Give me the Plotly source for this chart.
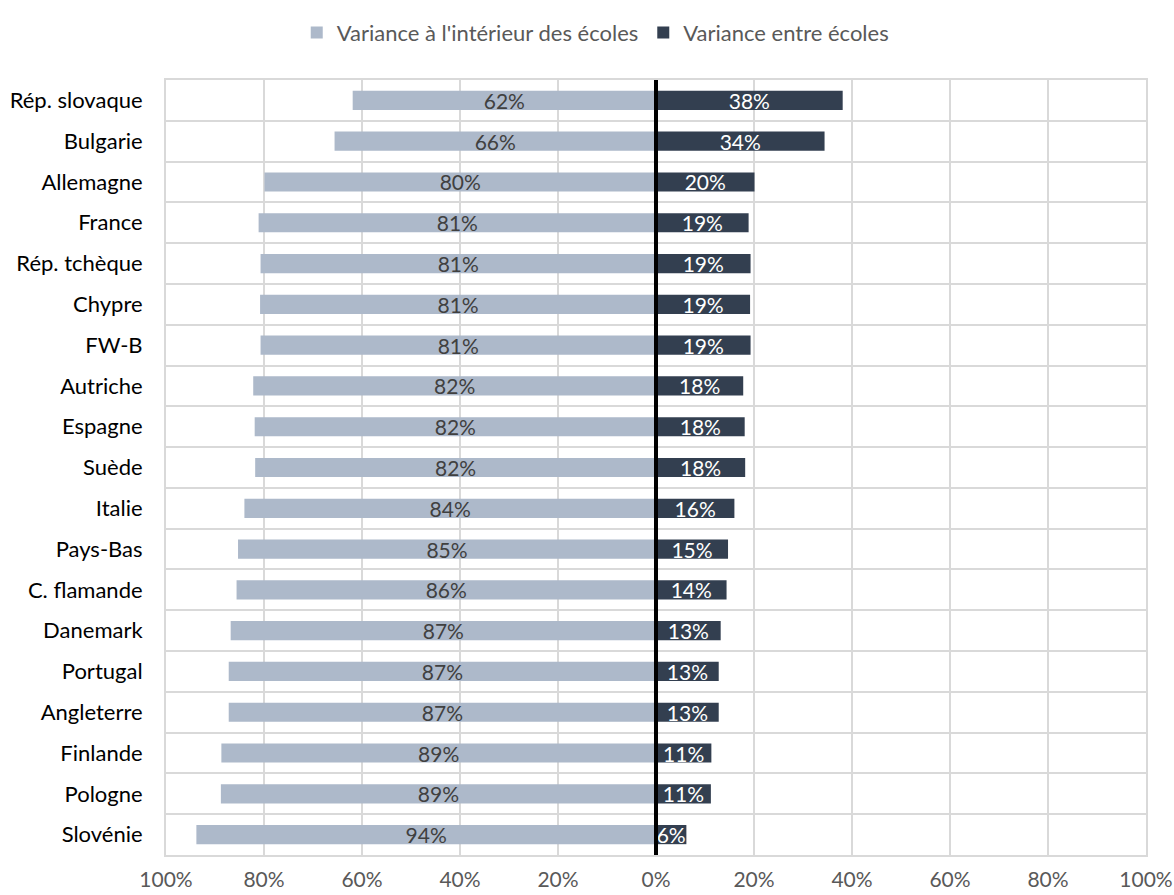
import plotly.graph_objects as go

# Share of reading-score variance, by country (percent)
countries = [
    "Rép. slovaque", "Bulgarie", "Allemagne", "France", "Rép. tchèque",
    "Chypre", "FW-B", "Autriche", "Espagne", "Suède", "Italie", "Pays-Bas",
    "C. flamande", "Danemark", "Portugal", "Angleterre", "Finlande",
    "Pologne", "Slovénie",
]
within_schools = [
    61.9, 65.6, 79.9, 81.1, 80.7, 80.8, 80.7, 82.2, 81.9, 81.8, 84.0, 85.3,
    85.6, 86.8, 87.2, 87.2, 88.7, 88.8, 93.8,
]
between_schools = [
    38.1, 34.4, 20.1, 18.9, 19.3, 19.2, 19.3, 17.8, 18.1, 18.2, 16.0, 14.7,
    14.4, 13.2, 12.8, 12.8, 11.3, 11.2, 6.2,
]
tick_values = [-100, -80, -60, -40, -20, 0, 20, 40, 60, 80, 100]
tick_labels = ["100%", "80%", "60%", "40%", "20%", "0%",
               "20%", "40%", "60%", "80%", "100%"]

FONT = "Lato, Carlito, Calibri, sans-serif"
LIGHT = "#ADB9CA"
DARK = "#333F50"
GRID = "#D9D9D9"

fig = go.Figure()
fig.add_trace(go.Bar(
    name="Variance à l'intérieur des écoles",
    y=countries,
    x=[-v for v in within_schools],
    orientation="h",
    marker=dict(color=LIGHT, line=dict(width=0)),
    text=[f"{round(v)}%" for v in within_schools],
    textposition="inside",
    insidetextanchor="middle",
    textangle=0,
    textfont=dict(family=FONT, size=21, color="#404040"),
    hoverinfo="skip",
))
fig.add_trace(go.Bar(
    name="Variance entre écoles",
    y=countries,
    x=between_schools,
    orientation="h",
    marker=dict(color=DARK, line=dict(width=0)),
    text=[f"{round(v)}%" for v in between_schools],
    textposition="inside",
    insidetextanchor="middle",
    textangle=0,
    textfont=dict(family=FONT, size=21, color="#FFFFFF"),
    hoverinfo="skip",
))

# black reference line at zero, drawn over the bars
fig.add_shape(type="line", xref="x", yref="paper", x0=0, x1=0, y0=0, y1=1,
              line=dict(color="#000000", width=4), layer="above")

fig.update_layout(
    width=1174,
    height=895,
    margin=dict(l=166, r=28, t=80, b=40),
    paper_bgcolor="white",
    plot_bgcolor="white",
    barmode="relative",
    bargap=0.53,
    font=dict(family=FONT, size=20, color="#595959"),
    uniformtext=dict(minsize=20, mode="show"),
    legend=dict(
        orientation="h",
        x=0.438, xanchor="center",
        y=1.061, yanchor="middle",
        font=dict(family=FONT, size=22, color="#595959"),
        itemsizing="constant",
        traceorder="normal",
        itemwidth=30,
    ),
    showlegend=True,
)
fig.update_xaxes(
    range=[-100, 100],
    tickmode="array",
    tickvals=tick_values,
    ticktext=tick_labels,
    showgrid=True,
    gridcolor=GRID,
    gridwidth=2,
    zeroline=False,
    showline=True,
    linecolor=GRID,
    linewidth=2,
    mirror=True,
    ticks="",
    ticklabelstandoff=5,
    automargin=False,
    tickfont=dict(family=FONT, size=21, color="#595959"),
    fixedrange=True,
)
fig.update_yaxes(
    autorange="reversed",
    tickson="boundaries",
    showgrid=True,
    gridcolor=GRID,
    gridwidth=2,
    showline=True,
    linecolor=GRID,
    linewidth=2,
    mirror=True,
    ticks="",
    ticklabelstandoff=17,
    automargin=False,
    tickfont=dict(family=FONT, size=22, color="#000000"),
    fixedrange=True,
)

fig.write_html("out.html")
